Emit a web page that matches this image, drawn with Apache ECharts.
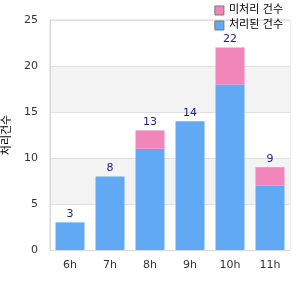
<!DOCTYPE html>
<html>
<head>
<meta charset="utf-8">
<script src="https://cdn.jsdelivr.net/npm/echarts@6/dist/echarts.min.js"></script>
<style>
  html, body { margin: 0; padding: 0; background: #fff; }
  #chart { width: 300px; height: 300px; }
</style>
</head>
<body>
<div id="chart"></div>
<script>
// 시간대별 건수
var hours = ['6h', '7h', '8h', '9h', '10h', '11h'];
var doneCount = [3, 8, 11, 14, 18, 7];     // 파란색
var pendingCount = [0, 0, 2, 0, 4, 2];    // 분홍색
var yTicks = [0, 5, 10, 15, 20, 25];

var totals = hours.map(function (h, i) { return doneCount[i] + pendingCount[i]; });
var zeros = hours.map(function () { return 0; });

var chart = echarts.init(document.getElementById('chart'));
chart.setOption({
  animation: false,
  textStyle: { fontFamily: 'DejaVu Sans, Noto Sans CJK KR' },
  grid: {
    left: 50, right: 10, top: 20, bottom: 50,
    outerBoundsMode: 'none',
    containLabel: false,
    show: true, borderColor: '#d9d9d9', borderWidth: 1, backgroundColor: 'transparent'
  },
  legend: {
    orient: 'vertical',
    right: 12, top: 0,
    icon: 'rect',
    itemWidth: 9, itemHeight: 9, itemGap: 4,
    textStyle: { fontSize: 11, color: '#000' },
    data: [
      { name: '미처리 건수', itemStyle: { borderColor: '#777', borderWidth: 1 } },
      { name: '처리된 건수', itemStyle: { borderColor: '#777', borderWidth: 1 } }
    ]
  },
  xAxis: {
    type: 'category',
    data: hours,
    axisLine: { lineStyle: { color: '#d9d9d9' } },
    axisTick: { show: false },
    axisLabel: { color: '#333', fontSize: 11, margin: 10 }
  },
  yAxis: {
    type: 'value',
    min: yTicks[0], max: yTicks[yTicks.length - 1], interval: 5,
    name: '처리건수',
    nameLocation: 'middle',
    nameRotate: 90,
    nameGap: 36,
    nameTextStyle: { color: '#000', fontSize: 11 },
    axisLine: { show: true, lineStyle: { color: '#d9d9d9' } },
    axisTick: { show: false },
    axisLabel: { color: '#333', fontSize: 11, margin: 12 },
    splitLine: { lineStyle: { color: '#e0e0e0' } },
    splitArea: { show: true, areaStyle: { color: ['#ffffff', '#f3f3f3'] } }
  },
  series: [
    {
      name: '처리된 건수',
      type: 'bar',
      stack: 'total',
      barWidth: 29,
      itemStyle: { color: '#62a9f5' },
      data: doneCount
    },
    {
      name: '미처리 건수',
      type: 'bar',
      stack: 'total',
      itemStyle: { color: '#f285b9' },
      data: pendingCount
    },
    {
      // 합계 라벨
      name: 'total',
      type: 'bar',
      stack: 'total',
      silent: true,
      itemStyle: { color: 'transparent' },
      label: {
        show: true, position: 'top', distance: 3,
        color: '#1a1a8c', fontSize: 11,
        formatter: function (p) { return totals[p.dataIndex]; }
      },
      data: zeros
    }
  ]
});
</script>
</body>
</html>
